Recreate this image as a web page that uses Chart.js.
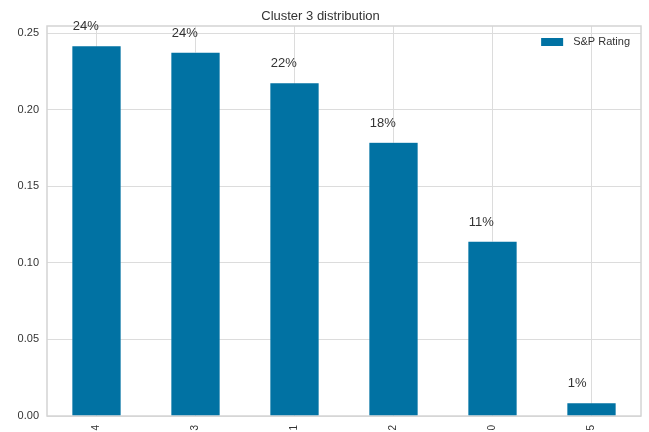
<!DOCTYPE html>
<html>
<head>
<meta charset="utf-8">
<script src="https://cdn.jsdelivr.net/npm/chart.js@4"></script>
<style>
	html, body { margin: 0; padding: 0; background: #fff; }
	#wrap { width: 649px; height: 432px; }
</style>
</head>
<body>
<div id="wrap"><canvas id="chart"></canvas></div>
<script>
	// values
	const categories = ['4', '3', '1', '2', '0', '5'];
	const shares = [0.2417, 0.2376, 0.2176, 0.1787, 0.1142, 0.0087];
	const yTicks = [0, 0.05, 0.10, 0.15, 0.20, 0.25];
	const seriesName = 'S&P Rating';
	const titleText = 'Cluster 3 distribution';

	const barColor = '#0172a3';
	const gridColor = '#dcdcdc';
	const textColor = '#333333';

	// percent labels above each bar
	const pctLabels = {
		id: 'pctLabels',
		afterDatasetsDraw(chart) {
			const ctx = chart.ctx;
			const meta = chart.getDatasetMeta(0);
			ctx.save();
			ctx.font = '13px Arial, "Liberation Sans", sans-serif';
			ctx.fillStyle = textColor;
			ctx.textAlign = 'left';
			ctx.textBaseline = 'middle';
			meta.data.forEach((bar, i) => {
				const left = bar.x - bar.width / 2;
				ctx.fillText(Math.round(shares[i] * 100) + '%', left + 1, bar.y - 19);
			});
			ctx.restore();
		}
	};

	// legend box inside the plot area, top right
	const innerLegend = {
		id: 'innerLegend',
		afterDraw(chart) {
			const ctx = chart.ctx;
			const a = chart.chartArea;
			ctx.save();
			ctx.font = '11px Arial, "Liberation Sans", sans-serif';
			const label = chart.data.datasets[0].label;
			const tw = ctx.measureText(label).width;
			const textX = a.right - 11 - tw;
			ctx.fillStyle = barColor;
			ctx.fillRect(textX - 32, 38, 22, 8);
			ctx.fillStyle = textColor;
			ctx.textBaseline = 'middle';
			ctx.fillText(label, textX, 42);
			ctx.restore();
		}
	};

	// outer frame of the axes
	const frame = {
		id: 'frame',
		beforeDatasetsDraw(chart) {
			const ctx = chart.ctx;
			const a = chart.chartArea;
			ctx.save();
			ctx.strokeStyle = '#d4d4d4';
			ctx.lineWidth = 1.5;
			ctx.strokeRect(a.left, a.top, a.right - a.left, a.bottom - a.top);
			ctx.restore();
		}
	};

	new Chart(document.getElementById('chart'), {
		type: 'bar',
		data: {
			labels: categories,
			datasets: [{
				label: seriesName,
				data: shares,
				backgroundColor: barColor,
				borderColor: 'rgba(255,255,255,0.6)',
				borderWidth: 0.6,
				categoryPercentage: 1.0,
				barPercentage: 0.5
			}]
		},
		options: {
			responsive: true,
			maintainAspectRatio: false,
			animation: false,
			layout: { padding: { left: 0, right: 8, top: 0, bottom: 0 } },
			plugins: {
				legend: { display: false },
				tooltip: { enabled: false },
				title: {
					display: true,
					text: titleText,
					color: textColor,
					font: { family: 'Arial, "Liberation Sans", sans-serif', size: 13, weight: 'normal' },
					padding: { top: 9, bottom: 1.4 }
				}
			},
			scales: {
				x: {
					grid: { color: gridColor, lineWidth: 1, offset: false, drawTicks: false },
					border: { display: false },
					ticks: {
						color: textColor,
						font: { family: 'Arial, "Liberation Sans", sans-serif', size: 10 },
						minRotation: 90, maxRotation: 90,
						padding: 9
					},
					afterFit(s) { s.height = 16; }
				},
				y: {
					min: 0,
					max: 0.2546,
					grid: { color: gridColor, lineWidth: 1, drawTicks: false },
					border: { display: false },
					afterBuildTicks(s) { s.ticks = yTicks.map(v => ({ value: v })); },
					ticks: {
						color: textColor,
						font: { family: 'Arial, "Liberation Sans", sans-serif', size: 11 },
						padding: 8,
						callback: v => v.toFixed(2)
					},
					afterFit(s) { s.width = 47; }
				}
			}
		},
		plugins: [frame, pctLabels, innerLegend]
	});
</script>
</body>
</html>
